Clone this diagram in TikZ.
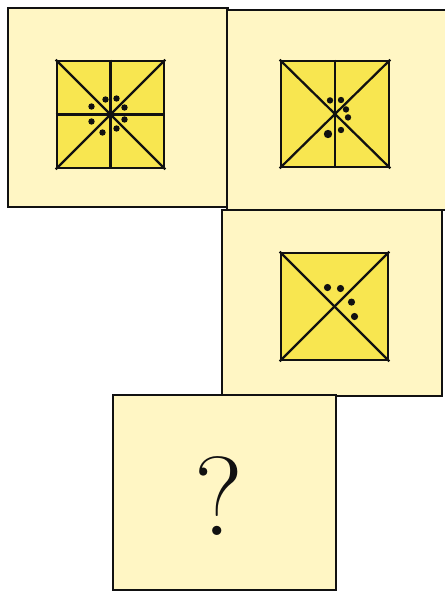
\documentclass[tikz,border=0pt]{standalone}
\usepackage{xcolor}
\usepackage{tikz}
\usetikzlibrary{positioning}
\definecolor{cardbg}{HTML}{FFF6C4}
\definecolor{tilefill}{HTML}{F8E650}
\definecolor{inkdark}{HTML}{111111}

\begin{document}
\begin{tikzpicture}[
  card/.style={rectangle,draw=inkdark,fill=cardbg,line width=1.8pt,
               minimum width=5.5cm,minimum height=4.95cm,inner sep=0pt},
  tile/.style={rectangle,draw=inkdark,fill=tilefill,line width=1.8pt,
               minimum size=2.68cm,inner sep=0pt},
  ray/.style={inkdark,line width=1.6pt},
  dot/.style={circle,fill=inkdark,inner sep=0pt,minimum size=0.16cm},
  bigdot/.style={circle,fill=inkdark,inner sep=0pt,minimum size=0.21cm}
]

%--- Frame ---
\useasboundingbox (0,0) rectangle (11.125,-14.775);

% ---- CARDS ----
\node[card,minimum height=4.98cm] (cardA) at (2.95,-2.69)   {};
\node[card,minimum height=5.0cm]  (cardB) at (8.425,-2.75)  {};
\node[card,minimum height=4.65cm] (cardC) at (8.3,-7.575)   {};
\node[card,minimum width=5.575cm,minimum height=4.875cm] (cardD) at (5.6125,-12.3125) {};

% ---- TILES ----
\node[tile] (tileA) at (2.7625,-2.8625) {};
\node[tile,minimum width=2.7cm,minimum height=2.65cm] (tileB) at (8.375,-2.85) {};
\node[tile] (tileC) at (8.3625,-7.6625) {};

% ---- LINES ----
\foreach \t in {tileA,tileB,tileC}{
  \draw[ray] (\t.north west) -- (\t.south east);
  \draw[ray] (\t.north east) -- (\t.south west);
}
\foreach \t in {tileA,tileB}
  \draw[ray] (\t.north) -- (\t.south);
\draw[ray] (tileA.west) -- (tileA.east);

% ---- DOTS ----
\foreach \dx/\dy in {-0.475/0.2,-0.125/0.375,0.15/0.4,0.35/0.175,
                     0.35/-0.125,0.15/-0.35,-0.2/-0.45,-0.475/-0.175}
  \node[dot] at ([shift={(\dx,\dy)}]tileA.center) {};

\foreach \dx/\dy in {-0.125/0.34,0.15/0.35,0.275/0.115,0.325/-0.085,0.15/-0.4}
  \node[dot] at ([shift={(\dx,\dy)}]tileB.center) {};
\node[bigdot] at ([shift={(-0.175,-0.5)}]tileB.center) {};

\foreach \dx/\dy in {-0.175/0.475,0.15/0.45,0.425/0.11,0.5/-0.25}
  \node[dot,minimum size=0.18cm] at ([shift={(\dx,\dy)}]tileC.center) {};

% ---- QUESTION ----
\node[font=\fontsize{80}{82}\selectfont,text=inkdark] (query) at (5.475,-12.4) {?};

\end{tikzpicture}
\end{document}
